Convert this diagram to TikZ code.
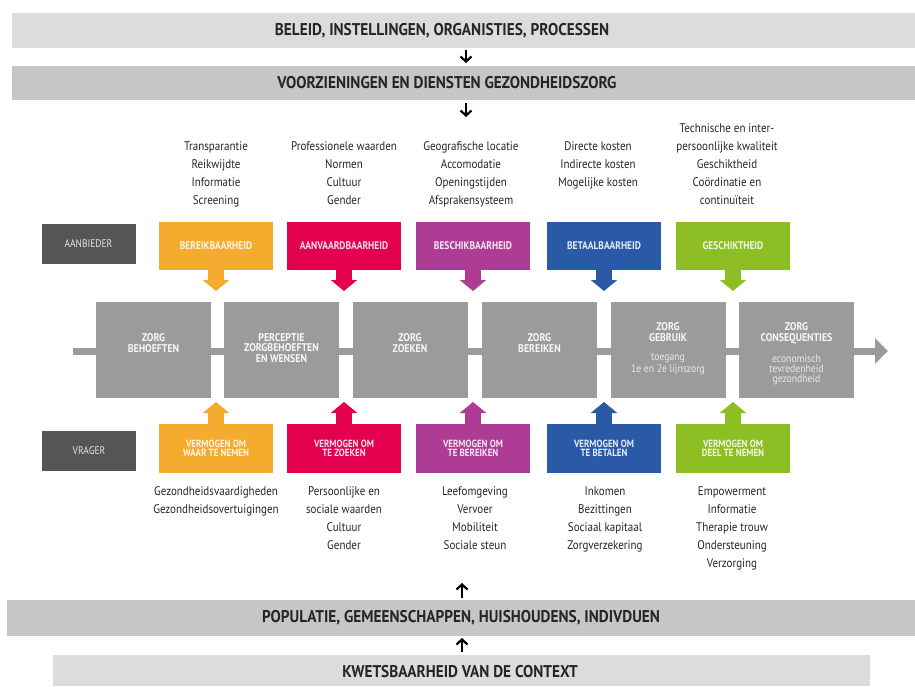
\documentclass[tikz,border=0pt]{standalone}
\usepackage{fontspec}
\setmainfont{PT Sans}
\newfontfamily\cf[FakeStretch=0.86]{PT Sans}
\newfontfamily\lf[FakeStretch=0.88]{PT Sans}
\newfontfamily\hf[FakeStretch=0.9]{PT Sans}
\usetikzlibrary{arrows.meta,calc}
\definecolor{bandL}{HTML}{DCDCDC}
\definecolor{bandD}{HTML}{C6C6C6}
\definecolor{midg}{HTML}{9B9B9B}
\definecolor{dgray}{HTML}{555555}
\definecolor{cOr}{HTML}{F5AB2E}
\definecolor{cRd}{HTML}{E2004F}
\definecolor{cMg}{HTML}{AE3C95}
\definecolor{cBl}{HTML}{2A5AA7}
\definecolor{cGr}{HTML}{8DBF24}
\definecolor{txt}{HTML}{262626}
\begin{document}
\begin{tikzpicture}[x=1pt,y=-1pt,
  bandbox/.style={inner sep=0,outer sep=0,minimum height=35pt},
  headtxt/.style={inner sep=0,font=\hf\bfseries\fontsize{17}{17}\selectfont,text=txt},
  bandarrow/.style={line width=2.2pt,-{Straight Barb[length=5pt,width=11pt]},black},
  sidebox/.style={fill=dgray,minimum width=94pt,minimum height=40pt,inner sep=0,text=white!80!gray,font=\cf\fontsize{11}{11}\selectfont},
  colbox/.style={fill=#1,minimum width=114pt,minimum height=48pt,inner sep=0,outer sep=0,align=center,text=white!88!#1,font=\cf\bfseries\fontsize{11}{9.5}\selectfont},
  colarrow/.style={draw=#1,line width=16pt,-{Triangle[width=26pt,length=11pt]}},
  midbox/.style={fill=midg,minimum width=115pt,minimum height=96pt,inner sep=0,outer sep=0},
  midtxt/.style={anchor=base,align=center,inner sep=0,text=white!94!gray,font=\lf\bfseries\fontsize{11.2}{10.3}\selectfont},
  subtxt/.style={anchor=base,align=center,inner sep=0,text=white!82!gray,font=\lf\fontsize{11}{10}\selectfont},
  listtxt/.style={anchor=base,align=center,inner sep=0,text=txt,font=\lf\fontsize{12.5}{18}\selectfont},
  vbox/.style={colbox=#1,minimum height=49pt,font=\cf\bfseries\fontsize{10.4}{9.3}\selectfont}
]
\useasboundingbox (0,0) rectangle (915,686);
\fill[white] (0,0) rectangle (915,686);

% top bands
\node[bandbox,fill=bandL,minimum width=903pt] (band1) at (463.5,30.5) {};
\node[headtxt] (h1) at (442,31) {BELEID, INSTELLINGEN, ORGANISTIES, PROCESSEN};
\node[bandbox,fill=bandD,minimum width=903pt,minimum height=34pt] (band2) at (463.5,83) {};
\node[headtxt] (h2) at (447,83) {VOORZIENINGEN EN DIENSTEN GEZONDHEIDSZORG};
\coordinate (ax) at (466,0);
\coordinate (a2end) at (466,117);
\draw[bandarrow] (band1.south -| ax) ++(0,2) -- ($(band2.north -| ax)+(0,-3)$);
\draw[bandarrow] (band2.south -| ax) ++(0,3) -- (a2end);

% top lists (anchor base = last line)
\node[listtxt] (l1) at (216,204) {Transparantie\\Reikwijdte\\Informatie\\Screening};
\node[listtxt] (l2) at (344,204) {Professionele waarden\\Normen\\Cultuur\\Gender};
\node[listtxt] (l3) at (471,204) {Geografische locatie\\Accomodatie\\Openingstijden\\Afsprakensysteem};
\node[listtxt] (l4) at (598,186) {Directe kosten\\Indirecte kosten\\Mogelijke kosten};
\node[listtxt] (l5) at (727,204) {Technische en inter-\\persoonlijke kwaliteit\\Geschiktheid\\Co\"ordinatie en\\continu\"iteit};

% middle line
\coordinate (lstart) at (73,351);
\coordinate (lend) at (888,351);
\draw[midg,line width=7pt,-{Triangle[width=25pt,length=13pt]}] (lstart) -- (lend);

% middle boxes
\node[midbox] (m1) at (153.5,350) {};
\node[midbox] (m2) at (281.5,350) {};
\node[midbox] (m3) at (410,350) {};
\node[midbox] (m4) at (539.5,350) {};
\node[midbox] (m5) at (668,350) {};
\node[midbox] (m6) at (796.5,350) {};
\node[midtxt] (t1) at (153.5,352) {ZORG\\BEHOEFTEN};
\node[midtxt] (t2) at (281.5,362) {PERCEPTIE\\ZORGBEHOEFTEN\\EN WENSEN};
\node[midtxt] (t3) at (410,352) {ZORG\\ZOEKEN};
\node[midtxt] (t4) at (539.5,352) {ZORG\\BEREIKEN};
\node[midtxt] (t5) at (668,341) {ZORG\\GEBRUIK};
\node[subtxt] (s5) at (668,372) {toegang\\1e en 2e lijnszorg};
\node[midtxt] (t6) at (796.5,341) {ZORG\\CONSEQUENTIES};
\node[subtxt] (s6) at (796.5,382) {economisch\\tevredenheid\\gezondheid};

% aanbieder row
\node[sidebox] (aan) at (88.5,243.5) {AANBIEDER};
\node[colbox=cOr] (b1) at (216,245.5) {BEREIKBAARHEID};
\node[colbox=cRd] (b2) at (344,245.5) {AANVAARDBAARHEID};
\node[colbox=cMg] (b3) at (473,245.5) {BESCHIKBAARHEID};
\node[colbox=cBl] (b4) at (604,245.5) {BETAALBAARHEID};
\node[colbox=cGr] (b5) at (733,245.5) {GESCHIKTHEID};
\foreach \i/\c in {1/cOr,2/cRd,3/cMg,4/cBl,5/cGr}{
  \draw[colarrow=\c,shorten >=11pt] (b\i) -- (b\i |- m1.north);
}

% vrager row
\node[sidebox] (vra) at (89,451) {VRAGER};
\node[vbox=cOr] (c1) at (216,448.5) {VERMOGEN OM\\WAAR TE NEMEN};
\node[vbox=cRd] (c2) at (344,448.5) {VERMOGEN OM\\TE ZOEKEN};
\node[vbox=cMg] (c3) at (473,448.5) {VERMOGEN OM\\TE BEREIKEN};
\node[vbox=cBl] (c4) at (604,448.5) {VERMOGEN OM\\TE BETALEN};
\node[vbox=cGr] (c5) at (733,448.5) {VERMOGEN OM\\DEEL TE NEMEN};
\foreach \i/\c in {1/cOr,2/cRd,3/cMg,4/cBl,5/cGr}{
  \draw[colarrow=\c,shorten >=4pt] (c\i) -- (c\i |- m1.south);
}

% bottom lists (anchor base = last line)
\node[listtxt] (k1) at (216,513) {Gezondheidsvaardigheden\\Gezondheidsovertuigingen};
\node[listtxt] (k2) at (344,549) {Persoonlijke en\\sociale waarden\\Cultuur\\Gender};
\node[listtxt] (k3) at (475,549) {Leefomgeving\\Vervoer\\Mobiliteit\\Sociale steun};
\node[listtxt] (k4) at (605,549) {Inkomen\\Bezittingen\\Sociaal kapitaal\\Zorgverzekering};
\node[listtxt] (k5) at (732,567) {Empowerment\\Informatie\\Therapie trouw\\Ondersteuning\\Verzorging};

% bottom bands
\node[bandbox,fill=bandD,minimum width=908pt,minimum height=36pt] (band3) at (461,618) {};
\node[headtxt] (h3) at (461,618) {POPULATIE, GEMEENSCHAPPEN, HUISHOUDENS, INDIVDUEN};
\node[bandbox,fill=bandL,minimum width=817pt,minimum height=31pt] (band4) at (461.5,670.5) {};
\node[headtxt] (h4) at (460,672) {KWETSBAARHEID VAN DE CONTEXT};
\coordinate (bx) at (462,0);
\coordinate (a3start) at (462,598);
\draw[bandarrow] (a3start) -- (462,583);
\draw[bandarrow] ($(band4.north -| bx)+(0,-3)$) -- ($(band3.south -| bx)+(0,2)$);
\end{tikzpicture}
\end{document}
